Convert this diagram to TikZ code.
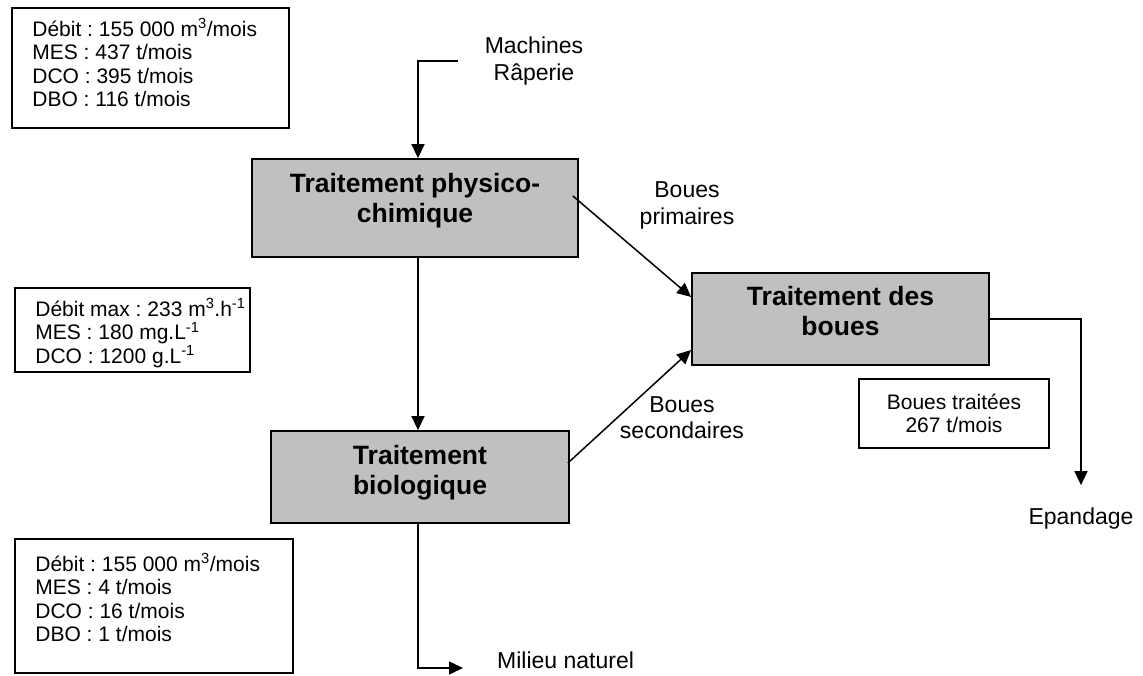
\documentclass[tikz,border=0pt]{standalone}
\usepackage{fontspec}
\setmainfont{Liberation Sans}
\frenchspacing
\usetikzlibrary{arrows.meta,positioning}
\definecolor{boxgray}{RGB}{192,192,192}
\tikzset{
  procbox/.style={draw, line width=1.8pt, fill=boxgray, inner sep=0pt},
  databox/.style={draw, line width=1.6pt, fill=white, inner sep=0pt},
  proctext/.style={font=\fontsize{26.5}{30}\selectfont\bfseries, align=center, anchor=base, inner sep=0pt},
  datatext/.style={font=\fontsize{21}{23.5}\selectfont, align=left, anchor=base west, inner sep=0pt},
  flowtext/.style={font=\fontsize{23}{26.5}\selectfont, align=center, anchor=base, inner sep=0pt},
  flow/.style={line width=1.5pt, -{Triangle[length=14pt,width=13pt]}}
}
\begin{document}
\begin{tikzpicture}[x=1pt,y=1pt]
\useasboundingbox (0,0) rectangle (1143,-676);
% treatment steps (base = last line)
\node[procbox, minimum width=326pt, minimum height=98pt,
  label={[proctext, yshift=-64pt]north:{Traitement physico-\\chimique}}] (phys) at (415,-208) {};
\node[procbox, minimum width=298pt, minimum height=92pt,
  label={[proctext, yshift=-64pt]north:{Traitement\\biologique}}] (bio) at (420,-477) {};
\node[procbox, minimum width=297pt, minimum height=92pt,
  label={[proctext, yshift=-63pt]north:{Traitement des\\boues}}] (boues) at (840.5,-319) {};
% data boxes
\node[databox, minimum width=277pt, minimum height=120pt,
  label={[datatext, shift={(21pt,-99.5pt)}]north west:{Débit : 155 000 m\textsuperscript{3}/mois\\MES : 437 t/mois\\DCO : 395 t/mois\\DBO : 116 t/mois}}] (entree) at (150.5,-68) {};
\node[databox, minimum width=235pt, minimum height=84pt,
  label={[datatext, shift={(21pt,-76pt)}]north west:{Débit max : 233 m\textsuperscript{3}.h\textsuperscript{-1}\\MES : 180 mg.L\textsuperscript{-1}\\DCO : 1200 g.L\textsuperscript{-1}}}] (charge) at (132.5,-330) {};
\node[databox, minimum width=278pt, minimum height=134pt,
  label={[datatext, shift={(21pt,-103.5pt)}]north west:{Débit : 155 000 m\textsuperscript{3}/mois\\MES : 4 t/mois\\DCO : 16 t/mois\\DBO : 1 t/mois}}] (sortie) at (154,-606) {};
\node[databox, minimum width=190pt, minimum height=69pt,
  label={[datatext, anchor=base, align=center, yshift=-54.5pt]north:{Boues traitées\\267 t/mois}}] (traitees) at (954,-413.5) {};
% flow labels
\node[flowtext] (mach) at (534,-80.5) {Machines\\Râperie};
\node[flowtext] (prim) at (687,-224.5) {Boues\\primaires};
\node[flowtext] (sec) at (682,-438.5) {Boues\\secondaires};
\node[flowtext] (epand) at (1081,-524) {Epandage};
\node[flowtext, anchor=base west] (milieu) at (497,-668) {Milieu naturel};
\coordinate (machin) at (458,-61);
% flows
\draw[flow] (machin) -| ([xshift=3pt]phys.north);
\draw[flow] ([xshift=3pt]phys.south) -- ([xshift=-2pt]bio.north);
\draw[flow] ([shift={(-6pt,12pt)}]phys.east) -- ([yshift=22pt]boues.west);
\draw[flow] ([shift={(-2pt,14pt)}]bio.east) -- ([yshift=-31pt]boues.west);
\draw[flow] ([xshift=-2pt]bio.south) |- ([xshift=-34pt]milieu.base west);
\draw[flow] (boues.east) -| ([yshift=22pt]epand.north);
\end{tikzpicture}
\end{document}
